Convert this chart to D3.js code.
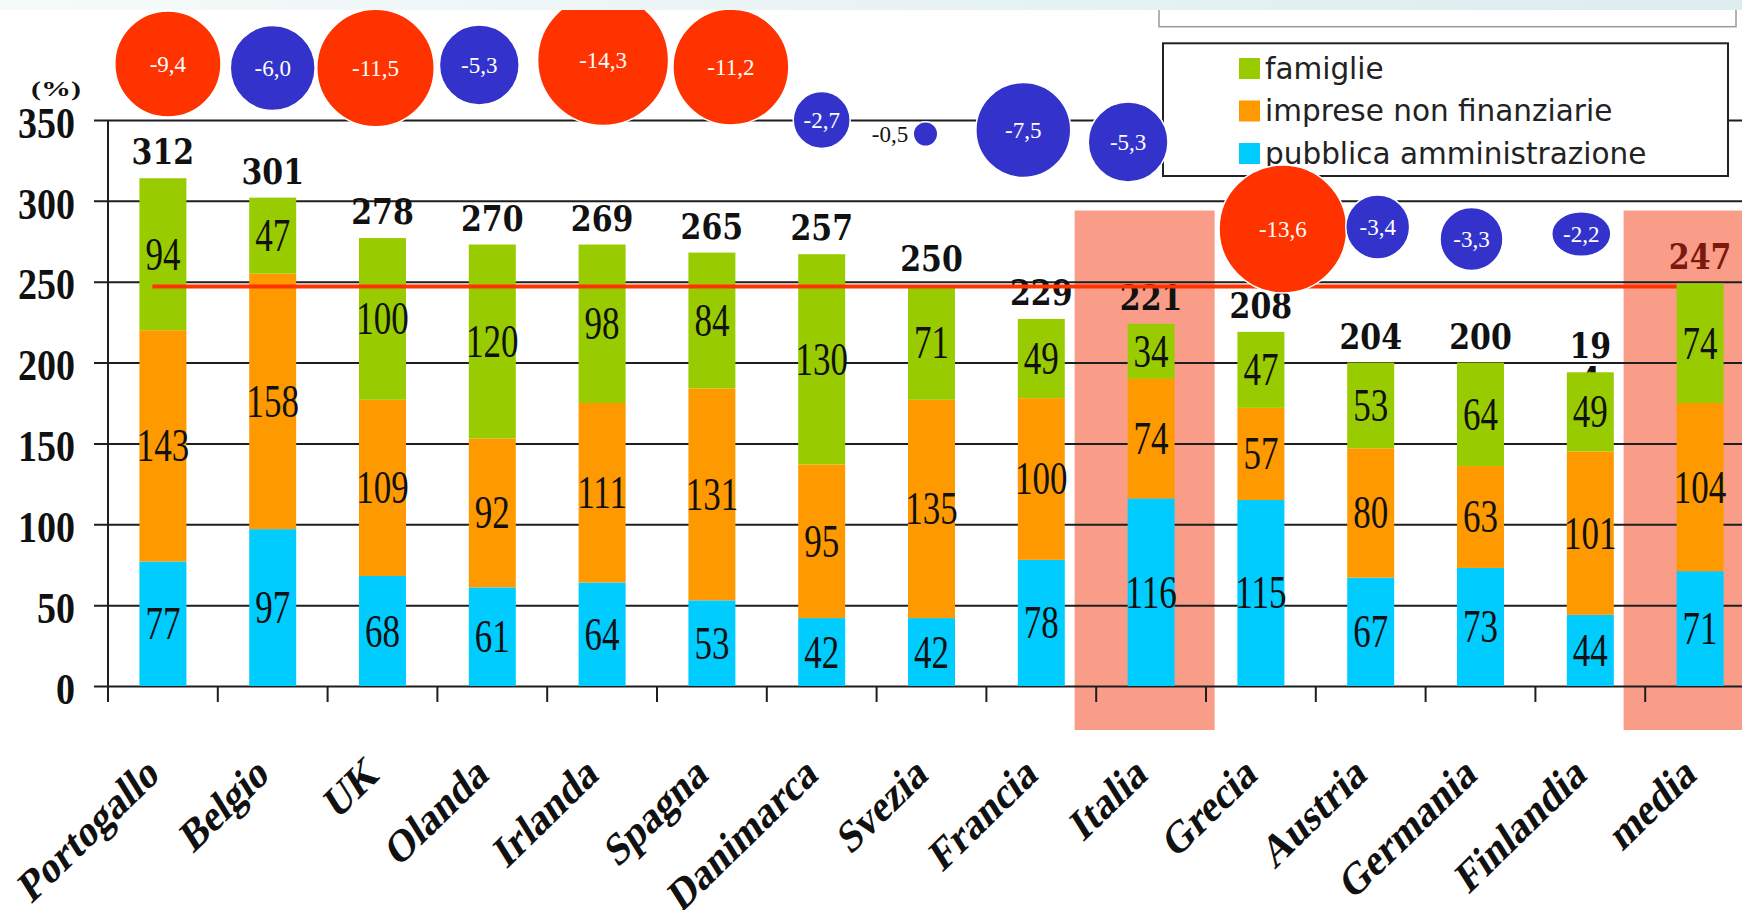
<!DOCTYPE html>
<html>
<head>
<meta charset="utf-8">
<script src="https://cdnjs.cloudflare.com/ajax/libs/d3/7.8.5/d3.min.js"></script>
<style>
  html, body { margin: 0; padding: 0; background: #fff; overflow: hidden; }
  svg { display: block; }
</style>
</head>
<body>
<svg id="chart" width="1742" height="910"></svg>
<script>
// Debito per settore (% del PIL) e saldo di bilancio, paesi dell'area euro + media
const paesi = ["Portogallo", "Belgio", "UK", "Olanda", "Irlanda", "Spagna", "Danimarca", "Svezia",
               "Francia", "Italia", "Grecia", "Austria", "Germania", "Finlandia", "media"];
const pubblicaAmministrazione = [77, 97, 68, 61, 64, 53, 42, 42, 78, 116, 115, 67, 73, 44, 71];
const impreseNonFinanziarie  = [143, 158, 109, 92, 111, 131, 95, 135, 100, 74, 57, 80, 63, 101, 104];
const famiglie               = [94, 47, 100, 120, 98, 84, 130, 71, 49, 34, 47, 53, 64, 49, 74];
const totali                 = [312, 301, 278, 270, 269, 265, 257, 250, 229, 221, 208, 204, 200, 194, 247];
// saldo di bilancio per paese (la media non ha bolla)
const saldo            = [-9.4, -6.0, -11.5, -5.3, -14.3, -11.2, -2.7, -0.5, -7.5, -5.3, -13.6, -3.4, -3.3, -2.2];
const saldoCritico     = [true, false, true, false, true, true, false, false, false, false, true, false, false, false];
const yTicks = [0, 50, 100, 150, 200, 250, 300, 350];
const evidenziati = ["Italia", "media"];

// ---- layout ----
const W = 1742, H = 910;
const svg = d3.select("#chart");

const x = d3.scaleBand().domain(paesi).range([108, 1755]).paddingInner(0.572).paddingOuter(0.286);
const y = d3.scaleLinear().domain([0, 350]).range([686, 120]);
const bw = x.bandwidth();
const cx = p => x(p) + bw / 2;

const colori = { famiglie: "#99cc00", imprese: "#ff9900", pa: "#00ccff" };
const serie = [
  { key: "pa", nome: "pubblica amministrazione", valori: pubblicaAmministrazione, colore: colori.pa },
  { key: "imprese", nome: "imprese non finanziarie", valori: impreseNonFinanziarie, colore: colori.imprese },
  { key: "famiglie", nome: "famiglie", valori: famiglie, colore: colori.famiglie }
];
const righe = paesi.map((p, i) => {
  const r = { paese: p };
  serie.forEach(s => r[s.key] = s.valori[i]);
  return r;
});
const stack = d3.stack().keys(serie.map(s => s.key))(righe);
const cima = paesi.map((p, i) => stack[stack.length - 1][i][1]);

// bolle del saldo: spostamento orizzontale rispetto al centro della barra, quota verticale, schiacciamento
const bollaLayout = [
  [5, 64, 1], [0, 68, 1], [-7, 68, 1], [-13, 65, 1], [1, 60, 1], [19, 67, 1], [0, 120, 1],
  [-6, 134, 1], [-18, 130, 1], [-23, 142, 1], [22, 229, 1], [7, 227, 1], [-9, 239, 1], [-9, 234, 1.15]
];
const r = d3.scaleSqrt().domain([0, 14.3]).range([0, 65.5]);
const it = d3.formatLocale({ decimal: ",", thousands: ".", grouping: [3], currency: ["€", ""], minus: "-" });
const fmt1 = it.format(".1f");

const serif = "'Liberation Serif', 'Times New Roman', serif";

// ---- riquadro superiore (parzialmente fuori vista) ----
svg.append("rect")
  .attr("x", 1159).attr("y", -20).attr("width", 577).attr("height", 46.7)
  .attr("fill", "#fff").attr("stroke", "#9a9a9a").attr("stroke-width", 1.5);

// ---- fasce evidenziate ----
svg.append("g").selectAll("rect").data(evidenziati).join("rect")
  .attr("x", d => x(d) - 53)
  .attr("y", y(294))
  .attr("width", bw + 93)
  .attr("height", 730 - y(294))
  .attr("fill", "#f99d88");

// ---- griglia e asse y ----
const gy = svg.append("g").attr("transform", "translate(108,0)")
  .call(d3.axisLeft(y).tickValues(yTicks).tickSizeInner(-(W - 108)).tickSizeOuter(0).tickPadding(33));
gy.select(".domain").remove();
gy.selectAll(".tick line").attr("x1", -14).attr("stroke", "#1e1e1e").attr("stroke-width", 2);
gy.selectAll(".tick text")
  .attr("font-family", serif)
  .attr("font-weight", "bold").attr("font-size", 38).attr("fill", "#111")
  .attr("dy", "0.34em").attr("transform", "translate(0,2) scale(1,1.18)");

svg.append("line")
  .attr("x1", 108).attr("x2", 108).attr("y1", y(350)).attr("y2", y(0) + 16)
  .attr("stroke", "#1e1e1e").attr("stroke-width", 2);

svg.append("text")
  .attr("x", 31).attr("y", 96)
  .attr("textLength", 50).attr("lengthAdjust", "spacingAndGlyphs")
  .attr("font-family", serif).attr("font-weight", "bold")
  .attr("font-size", 21).attr("fill", "#111").text("(%)");

// ---- asse x: tacche ai confini delle categorie ----
const confini = d3.range(paesi.length + 1).map(i => x.range()[0] + i * x.step());
svg.append("g").selectAll("line").data(confini).join("line")
  .attr("x1", d => d).attr("x2", d => d)
  .attr("y1", y(0)).attr("y2", y(0) + 16)
  .attr("stroke", "#1e1e1e").attr("stroke-width", 2);

const gx = svg.append("g").attr("transform", `translate(0,${y(0)})`)
  .call(d3.axisBottom(x).tickSize(0).tickPadding(0));
gx.select(".domain").remove();
gx.selectAll(".tick text")
  .attr("y", 0).attr("dy", 0)
  .attr("text-anchor", "end")
  .attr("transform", "translate(-2,92) scale(1,1.25) rotate(-38)")
  .attr("font-family", serif)
  .attr("font-weight", "bold").attr("font-size", 37).attr("fill", "#111");

// ---- etichette dei totali (sotto le barre: una va a capo e resta quasi nascosta) ----
const aCapo = { Finlandia: 2 };
const tot = svg.append("g")
  .attr("font-family", "'DejaVu Serif', serif").attr("font-weight", "bold")
  .attr("font-size", 30).attr("text-anchor", "middle");
paesi.forEach((p, i) => {
  const s = String(totali[i]);
  const t = tot.append("text")
    .attr("transform", `translate(${cx(p)},${y(cima[i]) - 14}) scale(1,1.15)`)
    .attr("fill", p === "media" ? "#7a1a0e" : "#111");
  if (aCapo[p]) {
    t.append("tspan").attr("x", 0).text(s.slice(0, aCapo[p]));
    t.append("tspan").attr("x", 0).attr("dy", "0.98em").text(s.slice(aCapo[p]));
  } else {
    t.text(s);
  }
});

// ---- barre impilate ----
const strati = svg.append("g").selectAll("g").data(stack).join("g")
  .attr("fill", (d, i) => serie[i].colore);
strati.selectAll("rect").data(d => d).join("rect")
  .attr("x", d => x(d.data.paese))
  .attr("y", d => y(d[1]))
  .attr("width", bw)
  .attr("height", d => y(d[0]) - y(d[1]));

// ---- valori dei segmenti ----
const seg = svg.append("g")
  .attr("font-family", serif)
  .attr("font-size", 35).attr("fill", "#111").attr("text-anchor", "middle");
stack.forEach(layer => {
  layer.forEach(d => {
    seg.append("text")
      .attr("transform", `translate(${cx(d.data.paese)},${y((d[0] + d[1]) / 2)}) scale(1,1.3)`)
      .attr("dy", "0.34em")
      .text(d[1] - d[0]);
  });
});

// ---- linea della media ----
const iMedia = paesi.indexOf("media");
svg.append("line")
  .attr("x1", x(paesi[0]) + 13).attr("x2", x("media"))
  .attr("y1", y(totali[iMedia])).attr("y2", y(totali[iMedia]))
  .attr("stroke", "#ff3300").attr("stroke-width", 4);

// ---- legenda ----
const leg = svg.append("g");
leg.append("rect")
  .attr("x", 1163).attr("y", 43.3).attr("width", 565).attr("height", 132.7)
  .attr("fill", "#fff").attr("stroke", "#222").attr("stroke-width", 2);
const voci = serie.slice().reverse();
const li = leg.selectAll("g.voce").data(voci).join("g").attr("class", "voce")
  .attr("transform", (d, i) => `translate(1239,${58 + i * 42.5})`);
li.append("rect").attr("width", 21).attr("height", 21).attr("fill", d => d.colore);
li.append("text")
  .attr("x", 26).attr("y", 20.5)
  .attr("font-family", "'DejaVu Sans', Verdana, sans-serif")
  .attr("font-size", 29.5).attr("fill", "#222")
  .text(d => d.nome);

// ---- bolle del saldo di bilancio ----
const bolle = svg.append("g");
saldo.forEach((v, i) => {
  const [dx, by, sx] = bollaLayout[i];
  const bx = cx(paesi[i]) + dx;
  const rr = r(Math.abs(v));
  bolle.append("ellipse")
    .attr("cx", bx).attr("cy", by)
    .attr("rx", rr * sx).attr("ry", rr / sx)
    .attr("fill", saldoCritico[i] ? "#ff3300" : "#3333cc")
    .attr("stroke", "#fff").attr("stroke-width", 1.5);
  const fuori = rr < 15;
  bolle.append("text")
    .attr("x", fuori ? bx - rr * sx - 5 : bx)
    .attr("y", by)
    .attr("dy", "0.33em")
    .attr("text-anchor", fuori ? "end" : "middle")
    .attr("font-family", serif)
    .attr("font-size", 23)
    .attr("fill", fuori ? "#111" : "#fff")
    .text(fmt1(v));
});

// ---- fascia di intestazione ----
const grad = svg.append("defs").append("linearGradient").attr("id", "testata")
  .attr("x1", "0").attr("x2", "1").attr("y1", "0").attr("y2", "0");
grad.append("stop").attr("offset", "0").attr("stop-color", "#f6fafa");
grad.append("stop").attr("offset", "1").attr("stop-color", "#dcecef");
svg.append("rect").attr("x", 0).attr("y", 0).attr("width", W).attr("height", 10)
  .attr("fill", "url(#testata)");
</script>
</body>
</html>
